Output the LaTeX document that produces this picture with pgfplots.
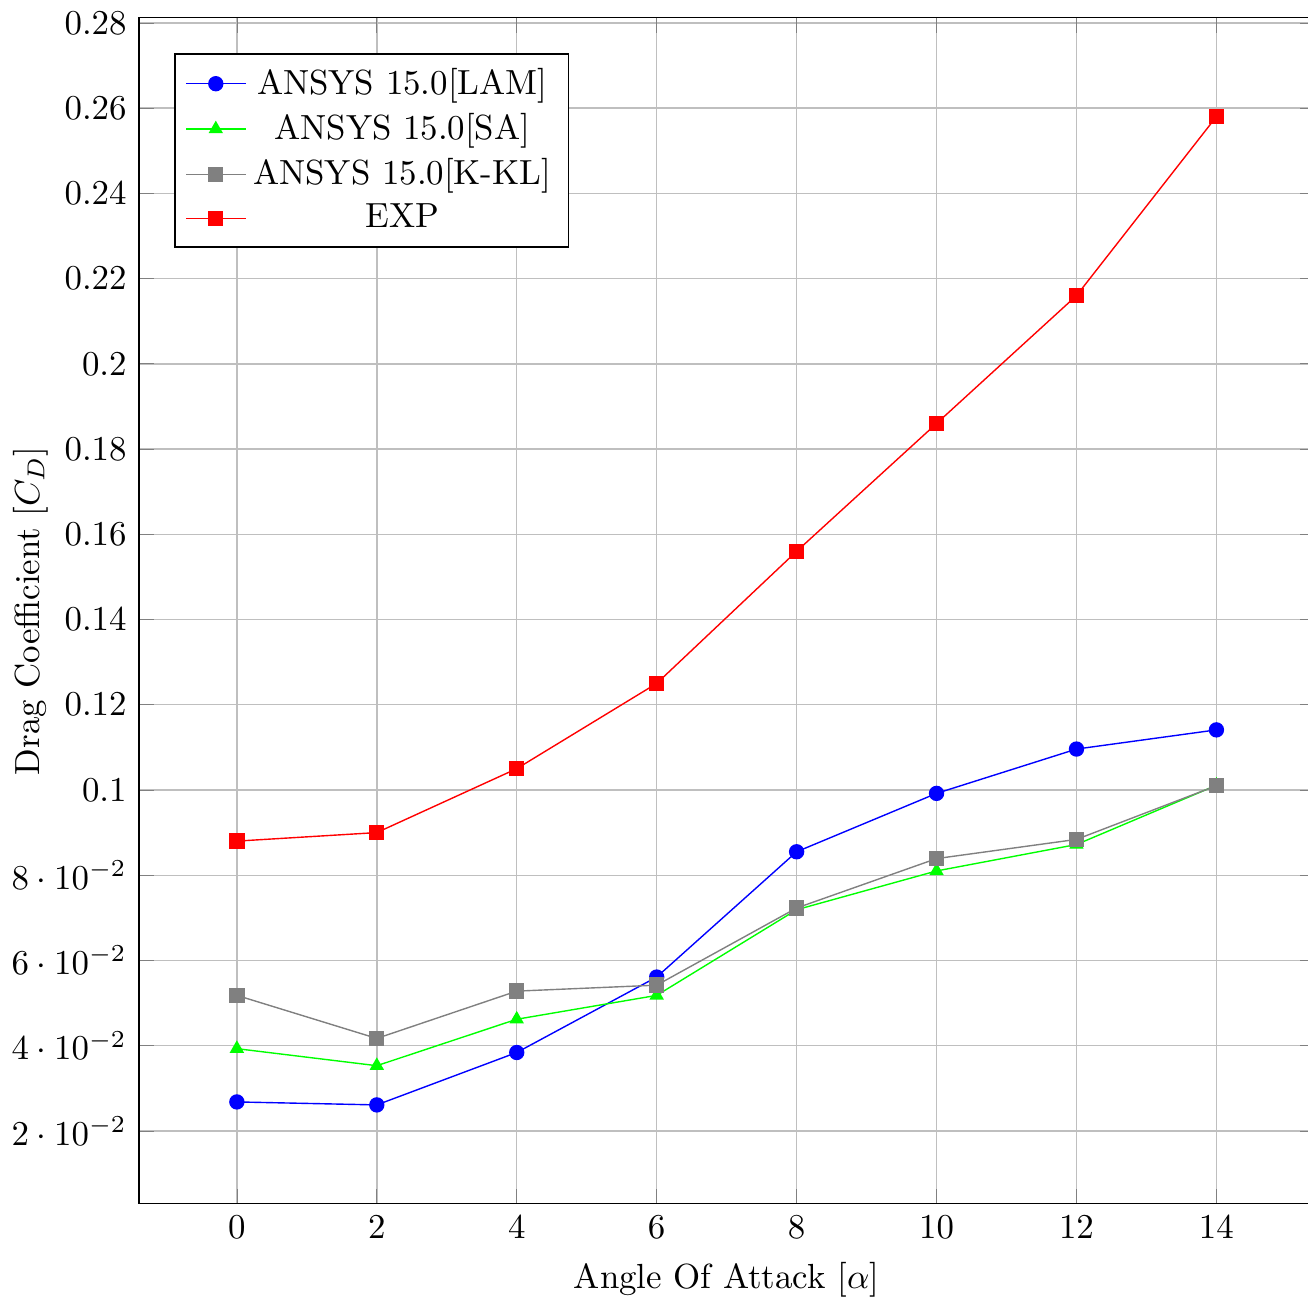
\documentclass[border=0pt]{standalone}
\usepackage{pgfplots}
\pgfplotsset{compat=1.18}
\usetikzlibrary{calc}

\begin{document}
\begin{tikzpicture}
\begin{axis}[scale only axis,width=337pt,height=340pt,
  xtick={0,2,...,14},ytick={0.02,0.04,...,0.28},
  grid=major,
  xlabel={Angle Of Attack [$\alpha$]},
  ylabel={Drag Coefficient [$C_D$]},
  ylabel style={at={(axis description cs:-0.067,0.5)},anchor=south},
  legend style={at={(0.03,0.97)},anchor=north west}]
\addplot[blue,mark=*] coordinates
  {(0,0.0268) (2,0.0261) (4,0.0384) (6,0.0561) (8,0.0855) (10,0.0992) (12,0.1096) (14,0.1141)};
\addplot[green,mark=triangle*] coordinates
  {(0,0.0393) (2,0.0353) (4,0.0462) (6,0.0518) (8,0.0719) (10,0.0810) (12,0.0872) (14,0.1011)};
\addplot[gray,mark=square*] coordinates
  {(0,0.0518) (2,0.0417) (4,0.0528) (6,0.0542) (8,0.0723) (10,0.0839) (12,0.0884) (14,0.1010)};
\addplot[red,mark=square*] coordinates
  {(0,0.088) (2,0.090) (4,0.105) (6,0.125) (8,0.156) (10,0.186) (12,0.216) (14,0.258)};
\legend{ANSYS 15.0[LAM],ANSYS 15.0[SA],ANSYS 15.0[K-KL],EXP}
\end{axis}
% the reference is cut just short of the right axis line
\pgfresetboundingbox
\path (current axis.outer south west) rectangle
  ($(current axis.north east |- current axis.outer north east)+(-1.9pt,0)$);
\end{tikzpicture}
\end{document}
